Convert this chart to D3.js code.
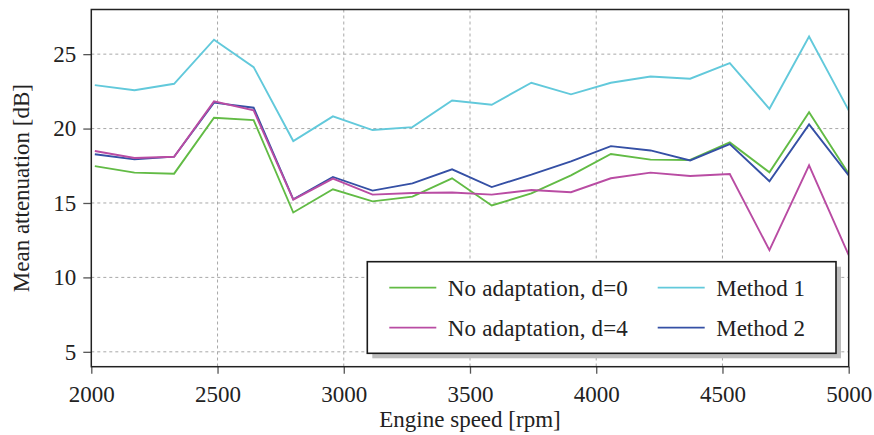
<!DOCTYPE html>
<html>
<head>
<meta charset="utf-8">
<script src="https://cdn.jsdelivr.net/npm/d3@7"></script>
<style>
html,body{margin:0;padding:0;background:#fff;}
svg{display:block;font-family:"Liberation Serif","Times New Roman",serif;}
</style>
</head>
<body>
<svg id="chart" width="874" height="435"></svg>
<script>
const rpm = [2014, 2171, 2328, 2486, 2643, 2800, 2957, 3114, 3272, 3429, 3586, 3743, 3900, 4058, 4215, 4372, 4529, 4686, 4843, 5000];
const noAdapt0 = [17.48, 17.04, 16.97, 20.73, 20.57, 14.36, 15.92, 15.11, 15.43, 16.66, 14.83, 15.65, 16.86, 18.29, 17.91, 17.89, 19.07, 17.06, 21.09, 16.97];
const noAdapt4 = [18.49, 18.02, 18.11, 21.83, 21.22, 15.23, 16.64, 15.56, 15.67, 15.70, 15.56, 15.87, 15.72, 16.66, 17.04, 16.81, 16.95, 11.83, 17.53, 11.49];
const method1 = [22.92, 22.58, 23.01, 25.97, 24.13, 19.16, 20.82, 19.90, 20.10, 21.89, 21.60, 23.08, 22.30, 23.08, 23.50, 23.35, 24.40, 21.33, 26.19, 21.22];
const method2 = [18.27, 17.93, 18.11, 21.74, 21.40, 15.25, 16.75, 15.83, 16.32, 17.26, 16.07, 16.90, 17.80, 18.82, 18.53, 17.86, 18.96, 16.46, 20.28, 16.86];
const xTicks = [2000, 2500, 3000, 3500, 4000, 4500, 5000];
const yTicks = [5, 10, 15, 20, 25];
const seriesNames = ["No adaptation, d=0", "No adaptation, d=4", "Method 1", "Method 2"];
const seriesColors = ["#62bb45", "#b94ca3", "#62c9db", "#3550a5"];

const series = [
  {name: seriesNames[0], values: noAdapt0, color: seriesColors[0]},
  {name: seriesNames[1], values: noAdapt4, color: seriesColors[1]},
  {name: seriesNames[2], values: method1, color: seriesColors[2]},
  {name: seriesNames[3], values: method2, color: seriesColors[3]}
];

const FONT = '"Liberation Serif","Times New Roman",serif';
const FS = 23;
const svg = d3.select("#chart");
const L = 91.3, R = 848.7, T = 9.5, B = 366.7;
const x = d3.scaleLinear().domain([2000, 5000]).range([L, R]);
const y = d3.scaleLinear().domain([4, 28]).range([B, T]);

// grid
const grid = svg.append("g").attr("stroke", "#a8a8a8").attr("stroke-width", 1).attr("stroke-dasharray", "3,3");
grid.selectAll("line.h").data(yTicks).join("line")
  .attr("x1", L).attr("x2", R).attr("y1", d => y(d)).attr("y2", d => y(d));
grid.selectAll("line.v").data(xTicks.slice(1, -1)).join("line")
  .attr("y1", T).attr("y2", B).attr("x1", d => x(d)).attr("x2", d => x(d));

// axes
const xAxis = svg.append("g").attr("transform", `translate(0,${B})`)
  .call(d3.axisBottom(x).tickValues(xTicks).tickSize(7).tickPadding(12).tickFormat(d3.format("d")));
const yAxis = svg.append("g").attr("transform", `translate(${L},0)`)
  .call(d3.axisLeft(y).tickValues(yTicks).tickSize(8).tickPadding(7).tickFormat(d3.format("d")));
[xAxis, yAxis].forEach(a => {
  a.attr("font-family", FONT).attr("font-size", FS);
  a.select(".domain").remove();
  a.selectAll(".tick line").attr("stroke", "#555").attr("stroke-width", 1.3);
  a.selectAll(".tick text").attr("fill", "#222");
});
xAxis.selectAll(".tick text").attr("dy", "0.71em");

// lines
const line = d3.line().x((d, i) => x(rpm[i])).y(d => y(d));
svg.append("clipPath").attr("id", "clip").append("rect")
  .attr("x", L).attr("y", T).attr("width", R - L).attr("height", B - T);
svg.append("g").attr("clip-path", "url(#clip)")
  .selectAll("path").data([series[2], series[0], series[3], series[1]]).join("path")
  .attr("d", d => line(d.values)).attr("fill", "none")
  .attr("stroke", d => d.color).attr("stroke-width", 1.9).attr("stroke-linejoin", "miter");

// frame
svg.append("rect").attr("x", L).attr("y", T).attr("width", R - L).attr("height", B - T)
  .attr("fill", "none").attr("stroke", "#222").attr("stroke-width", 1.5);

// axis labels
svg.append("text").attr("x", (L + R) / 2).attr("y", 427).attr("text-anchor", "middle")
  .attr("font-family", FONT).attr("font-size", FS).attr("fill", "#222").text("Engine speed [rpm]");
svg.append("text").attr("transform", `translate(29,${(T + B) / 2}) rotate(-90)`)
  .attr("text-anchor", "middle").attr("font-family", FONT).attr("font-size", FS).attr("fill", "#222")
  .text("Mean attenuation [dB]");

// legend
const lg = svg.append("g");
const lx = 367.3, ly = 261.7, lw = 468.7, lh = 91.6;
lg.append("rect").attr("x", lx + 5).attr("y", ly + 5).attr("width", lw).attr("height", lh).attr("fill", "#bdbdbd");
lg.append("rect").attr("x", lx).attr("y", ly).attr("width", lw).attr("height", lh)
  .attr("fill", "#fff").attr("stroke", "#1a1a1a").attr("stroke-width", 1.6);
const pos = [[389.3, 287.7], [389.3, 327.7], [657.7, 287.7], [657.7, 327.7]];
series.forEach((s, i) => {
  const [px, py] = pos[i];
  lg.append("line").attr("x1", px).attr("x2", px + 47).attr("y1", py).attr("y2", py)
    .attr("stroke", s.color).attr("stroke-width", 1.8);
  const t = lg.append("text").attr("x", px + 58.5).attr("y", py + 8)
    .attr("font-family", FONT).attr("font-size", FS).attr("fill", "#222").text(s.name);
  if (i < 2) t.attr("textLength", 180).attr("lengthAdjust", "spacing");
});
</script>
</body>
</html>
